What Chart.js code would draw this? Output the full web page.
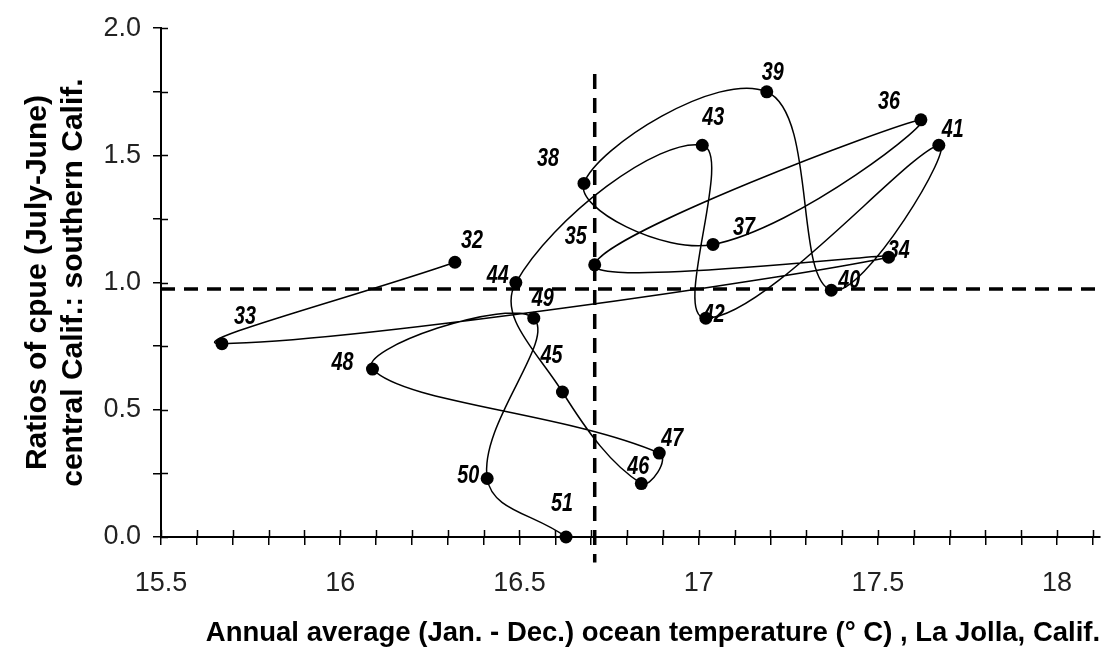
<!DOCTYPE html>
<html>
<head>
<meta charset="utf-8">
<script src="https://cdn.jsdelivr.net/npm/chart.js@4"></script>
<style>
  html, body { margin: 0; padding: 0; background: #fff; }
  #wrap { width: 1115px; height: 655px; }
</style>
</head>
<body>
<div id="wrap"><canvas id="cpueChart" width="1115" height="655"></canvas></div>
<script>
// years 1932-1951, labelled by last two digits
const years = ['32', '33', '34', '35', '36', '37', '38', '39', '40', '41',
               '42', '43', '44', '45', '46', '47', '48', '49', '50', '51'];
// annual average ocean temperature, La Jolla (deg C)
const temps = [16.32, 15.67, 17.53, 16.71, 17.62, 17.04, 16.68, 17.19, 17.37, 17.67,
               17.02, 17.01, 16.49, 16.62, 16.84, 16.89, 16.09, 16.54, 16.41, 16.63];
// ratio of cpue central : southern Calif. (July-June)
const ratios = [1.08, 0.76, 1.10, 1.07, 1.64, 1.15, 1.39, 1.75, 0.97, 1.54,
                0.86, 1.54, 1.00, 0.57, 0.21, 0.33, 0.66, 0.86, 0.23, 0.00];

// reference lines (means)
const meanTemp = 16.71;
const meanRatio = 0.975;
const meanTempLineY = [1.82, -0.1];
const meanRatioLineX = [15.5, 18.12];

const xRange = [15.5, 18.12];
const yRange = [0, 2];

// where each year label sits relative to its point (px)
const labelOffsets = [[17, -21], [23, -27], [10, -6], [-19, -28], [-32, -18], [31, -17],
                      [-36, -25], [6, -19], [18, -9], [14, -15], [8, -3], [11, -27],
                      [-18, -7], [-11, -36], [-3, -17], [13, -14], [-30, -6], [9, -19],
                      [-19, -3], [-4, -33]];

const points = temps.map((t, i) => ({ x: t, y: ratios[i] }));

// tick marks also poke into the plot area
const innerTicks = {
  id: 'innerTicks',
  beforeDatasetsDraw(chart) {
    const ctx = chart.ctx;
    const xs = chart.scales.x, ys = chart.scales.y;
    ctx.save();
    ctx.strokeStyle = '#000';
    ctx.lineWidth = 1.5;
    ctx.beginPath();
    xs.ticks.forEach(t => {
      const px = Math.round(xs.getPixelForValue(t.value)) + 0.5;
      ctx.moveTo(px, ys.bottom);
      ctx.lineTo(px, ys.bottom - 7);
    });
    ys.ticks.forEach(t => {
      const py = Math.round(ys.getPixelForValue(t.value)) + 0.5;
      ctx.moveTo(xs.left, py);
      ctx.lineTo(xs.left + 7, py);
    });
    ctx.stroke();
    ctx.restore();
  }
};

// year labels next to each point
const yearLabels = {
  id: 'yearLabels',
  afterDatasetsDraw(chart) {
    const ctx = chart.ctx;
    const meta = chart.getDatasetMeta(0);
    ctx.save();
    ctx.fillStyle = '#000';
    ctx.textAlign = 'center';
    ctx.textBaseline = 'middle';
    ctx.font = 'italic bold 26px "Liberation Sans", Arial, sans-serif';
    meta.data.forEach((el, i) => {
      const off = labelOffsets[i];
      ctx.save();
      ctx.translate(el.x + off[0], el.y + off[1]);
      ctx.scale(0.76, 1);
      ctx.fillText(years[i], 0, 0);
      ctx.restore();
    });
    ctx.restore();
  }
};

const isHalf = v => Math.abs(v * 2 - Math.round(v * 2)) < 1e-6;

const ctx = document.getElementById('cpueChart').getContext('2d');
const cpueChart = new Chart(ctx, {
  type: 'scatter',
  data: {
    datasets: [{
      label: 'Years',
      data: points,
      showLine: true,
      tension: 0.4,
      borderColor: '#000',
      borderWidth: 1.5,
      pointRadius: 6.5,
      pointBackgroundColor: '#000',
      pointBorderColor: '#000',
      pointBorderWidth: 0,
      clip: false
    }, {
      label: 'Mean temperature',
      data: meanTempLineY.map(v => ({ x: meanTemp, y: v })),
      showLine: true,
      borderColor: '#000',
      borderWidth: 3.5,
      borderDash: [15, 9],
      pointRadius: 0,
      clip: false
    }, {
      label: 'Mean ratio',
      data: meanRatioLineX.map(v => ({ x: v, y: meanRatio })),
      showLine: true,
      borderColor: '#000',
      borderWidth: 3.5,
      borderDash: [14, 9],
      pointRadius: 0,
      clip: false
    }]
  },
  options: {
    responsive: false,
    animation: false,
    layout: { padding: { top: 21, right: 6, left: 0, bottom: 0 } },
    plugins: {
      legend: { display: false },
      tooltip: { enabled: false }
    },
    scales: {
      x: {
        type: 'linear',
        min: xRange[0],
        max: xRange[1],
        afterFit(scale) { scale.height = 118; },
        border: { display: true, color: '#000', width: 2 },
        grid: { drawOnChartArea: false, drawTicks: true, tickLength: 8, color: '#000', lineWidth: 1.5 },
        ticks: {
          stepSize: 0.1,
          includeBounds: false,
          autoSkip: false,
          maxRotation: 0,
          padding: 22,
          color: '#222',
          font: { family: '"Liberation Sans", Arial, sans-serif', size: 27 },
          callback: v => isHalf(v) ? String(Math.round(v * 2) / 2) : ''
        },
        title: {
          display: true,
          align: 'end',
          text: 'Annual average (Jan. - Dec.) ocean temperature (° C) , La Jolla, Calif.',
          color: '#000',
          font: { family: '"Liberation Sans", Arial, sans-serif', size: 27.5, weight: 'bold', lineHeight: 1.2 },
          padding: { top: 0, bottom: 5 }
        }
      },
      y: {
        type: 'linear',
        min: yRange[0],
        max: yRange[1],
        afterFit(scale) { scale.width = 161; },
        border: { display: true, color: '#000', width: 2 },
        grid: { drawOnChartArea: false, drawTicks: true, tickLength: 8, color: '#000', lineWidth: 1.5 },
        ticks: {
          stepSize: 0.25,
          autoSkip: false,
          padding: 12,
          color: '#222',
          font: { family: '"Liberation Sans", Arial, sans-serif', size: 27 },
          callback: v => isHalf(v) ? v.toFixed(1) : ''
        },
        title: {
          display: true,
          text: ['Ratios of cpue (July-June)', 'central Calif.: southern Calif.'],
          color: '#000',
          font: { family: '"Liberation Sans", Arial, sans-serif', size: 30, weight: 'bold', lineHeight: 1.2 },
          padding: { top: 20, bottom: 0 }
        }
      }
    }
  },
  plugins: [innerTicks, yearLabels]
});
</script>
</body>
</html>
